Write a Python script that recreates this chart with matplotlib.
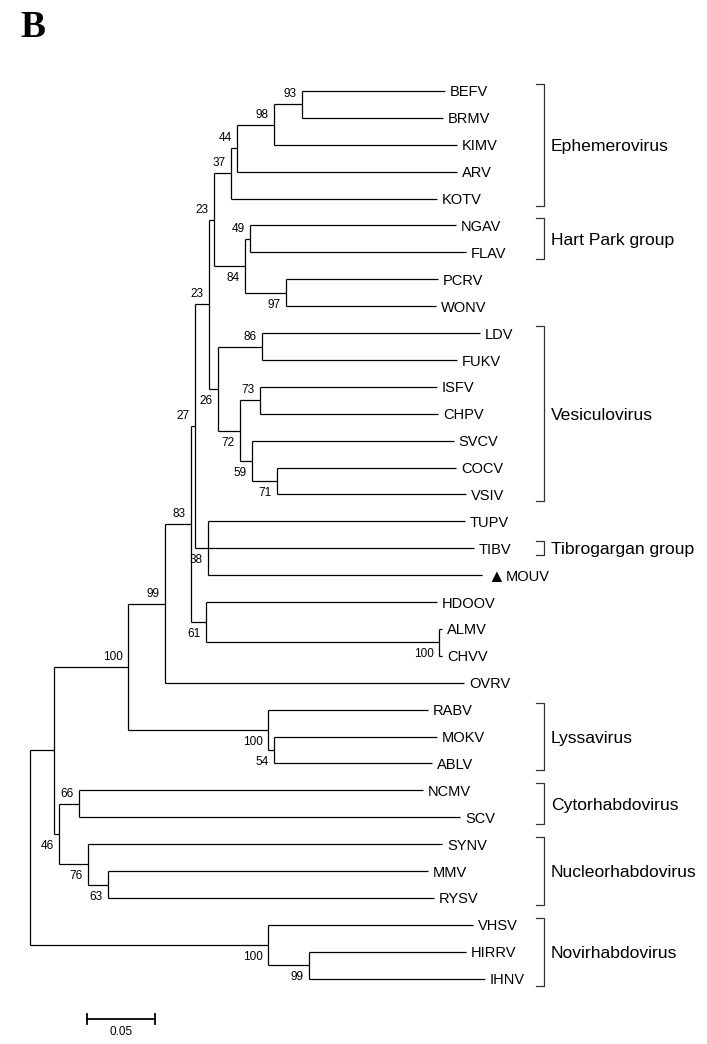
import matplotlib.pyplot as plt

# Clades as Newick strings (branch lengths in substitutions/site, bootstrap as node names)
ephemero = "(((((BEFV:0.1051,BRMV:0.1037)93:0.0206,KIMV:0.1346)98:0.0272,ARV:0.1618)44:0.0044,KOTV:0.1515)37:0.0125"
hart_park = "((NGAV:0.1515,FLAV:0.1588)49:0.0037,(PCRV:0.1118,WONV:0.1103)97:0.0301)84:0.0228"
vesiculo = ("((LDV:0.1603,FUKV:0.1434)86:0.0324,((ISFV:0.1301,CHPV:0.1309)73:0.0147,"
            "(SVCV:0.1485,(COCV:0.1316,VSIV:0.1390)71:0.0184)59:0.0088)72:0.0162)26:0.0066")
tibro = "(TUPV:0.1890,TIBV:0.1956,MOUV:0.2015)38:0.0096"
hdoov = "(HDOOV:0.1699,(ALMV:0.0022,CHVV:0.0022)100:0.1713)61:0.0110"
lyssa = "(RABV:0.1176,(MOKV:0.1199,ABLV:0.1162)54:0.0044)100:0.1029"
plant = "((NCMV:0.2529,SCV:0.2801)66:0.0147,(SYNV:0.2603,(MMV:0.2353,RYSV:0.2397)63:0.0147)76:0.0213)46:0.0037"
novi = "(VHSV:0.1507,(HIRRV:0.1154,IHNV:0.1294)99:0.0301)100:0.1750"

tree_str = (f"((((((({ephemero},{hart_park})23:0.0037,{vesiculo})23:0.0103,{tibro})27:0.0029,"
            f"{hdoov})83:0.0191,OVRV:0.2199)99:0.0272,{lyssa})100:0.0544,{plant}):0.0176,{novi});")

# Group brackets
groups = ["Ephemerovirus", "Hart Park group", "Vesiculovirus", "Tibrogargan group",
          "Lyssavirus", "Cytorhabdovirus", "Nucleorhabdovirus", "Novirhabdovirus"]
group_first = ["BEFV", "NGAV", "LDV", "TIBV", "RABV", "NCMV", "SYNV", "VHSV"]
group_last = ["KOTV", "FLAV", "VSIV", "TIBV", "ABLV", "SCV", "RYSV", "IHNV"]

marked_tip = "MOUV"
scale_len = 0.05


def parse_newick(s):
    pos = 0

    def node():
        nonlocal pos
        children = []
        if s[pos] == "(":
            pos += 1
            children.append(node())
            while s[pos] == ",":
                pos += 1
                children.append(node())
            pos += 1
        start = pos
        while pos < len(s) and s[pos] not in ":,();":
            pos += 1
        name = s[start:pos]
        length = 0.0
        if pos < len(s) and s[pos] == ":":
            pos += 1
            start = pos
            while s[pos] not in ",);":
                pos += 1
            length = float(s[start:pos])
        return {"name": name, "length": length, "children": children}

    return node()


def layout(nd, x0, tips):
    nd["x"] = x0 + nd["length"]
    if not nd["children"]:
        nd["y"] = len(tips)
        tips.append(nd)
    else:
        for c in nd["children"]:
            layout(c, nd["x"], tips)
        nd["y"] = (nd["children"][0]["y"] + nd["children"][-1]["y"]) / 2


root = parse_newick(tree_str)
root["length"] = 0.0
tips = []
layout(root, 0.0, tips)
tip_y = {t["name"]: t["y"] for t in tips}

plt.rcParams["font.family"] = ["Liberation Sans", "DejaVu Sans"]
fig = plt.figure(figsize=(7.07, 10.44), dpi=100)
ax = fig.add_axes([0, 0, 1, 1])
PX = 1 / 1360.0      # data units per pixel in x
ROW = 26.9           # pixels per tip row
ax.set_xlim(-30 * PX, 677 * PX)
ax.set_ylim((1044 - 91) / ROW, -91 / ROW)
ax.axis("off")

lw = 0.9


def draw(nd, parent=None, pos=None):
    if parent is not None:
        ax.plot([parent["x"], nd["x"]], [nd["y"], nd["y"]], color="black", lw=lw,
                solid_capstyle="butt")
    if nd["children"]:
        ax.plot([nd["x"], nd["x"]], [nd["children"][0]["y"], nd["children"][-1]["y"]],
                color="black", lw=lw, solid_capstyle="butt")
        if nd["name"] and parent is not None:
            dy = 10 if pos == "upper" else -12
            ax.annotate(nd["name"], (nd["x"], nd["y"]), xytext=(-5, dy),
                        textcoords="offset pixels", ha="right", va="center",
                        fontsize=8.5)
        n = len(nd["children"])
        for i, c in enumerate(nd["children"]):
            draw(c, nd, "upper" if i < n - 1 else "lower")
    else:
        dx = 5
        if nd["name"] == marked_tip:
            ax.annotate("\u25B2", (nd["x"], nd["y"]), xytext=(dx, 0),
                        textcoords="offset pixels", ha="left", va="center_baseline",
                        fontsize=13)
            dx = 24
        ax.annotate(nd["name"], (nd["x"], nd["y"]), xytext=(dx, 0),
                    textcoords="offset pixels", ha="left", va="center_baseline",
                    fontsize=10.5)


draw(root)

# group brackets
bx = 514 * PX
tick = 8 * PX
pad = 7 / ROW
for name, a, b in zip(groups, group_first, group_last):
    y0 = tip_y[a] - pad
    y1 = tip_y[b] + pad
    ax.plot([bx - tick, bx, bx, bx - tick], [y0, y0, y1, y1], color="#333333", lw=lw)
    ax.text(bx + 7 * PX, (y0 + y1) / 2, name, ha="left", va="center_baseline",
            fontsize=12.6)

# scale bar
sx0 = 57 * PX
sy = (1019 - 91) / ROW
cap = 5 / ROW
ax.plot([sx0, sx0 + scale_len], [sy, sy], color="black", lw=1.3)
ax.plot([sx0, sx0], [sy - cap, sy + cap], color="black", lw=1.3)
ax.plot([sx0 + scale_len, sx0 + scale_len], [sy - cap, sy + cap], color="black", lw=1.3)
ax.text(sx0 + scale_len / 2, (1032 - 91) / ROW, f"{scale_len:.2f}", ha="center",
        va="center", fontsize=8.5)

fig.text(20 / 707, 1 - 37 / 1044, "B", fontsize=27, fontweight="bold",
         family="Liberation Serif", ha="left", va="baseline")

fig.savefig("out.png", dpi=100)
